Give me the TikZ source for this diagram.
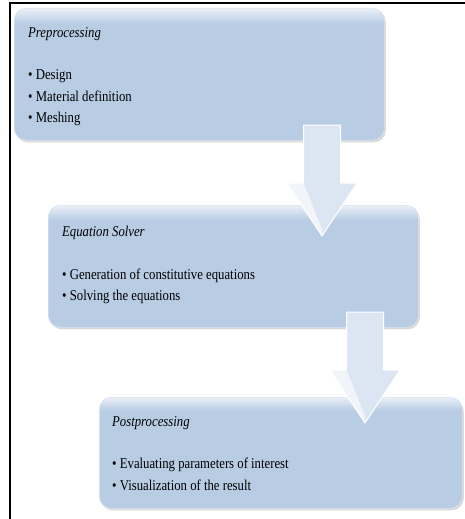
\documentclass[tikz,border=0pt]{standalone}
\usepackage{fontspec}
\setmainfont{Liberation Serif}[FakeStretch=0.85]
\usetikzlibrary{positioning,shadows}
\definecolor{boxblue}{HTML}{B8CCE4}
\definecolor{arrowblue}{HTML}{DCE6F2}
\pgfdeclareverticalshading{boxsheen}{100bp}{color(0bp)=(boxblue); color(25bp)=(boxblue);
  color(69bp)=(boxblue); color(75bp)=(white!70!boxblue); color(100bp)=(white!70!boxblue)}
\tikzset{
    stagebox/.style={rectangle, rounded corners=12pt, shading=boxsheen, draw=white!45!boxblue,
        line width=0.6pt, inner sep=0pt, anchor=north west,
        drop shadow={opacity=0.3, shadow xshift=1.5pt, shadow yshift=-2pt}},
    stagetext/.style={inner sep=0pt, align=left, font=\fontsize{15}{21.5}\selectfont},
    flowarrow/.style={fill=arrowblue, draw=white, line width=1pt, line join=round},
    arrowsheen/.style={fill=white, opacity=0.6}
}
% block arrow pointing down, top centre at (#1,#2)
\newcommand{\flowarrow}[2]{
    \path[flowarrow] (#1,#2) ++(-18.5,0) -- ++(37,0) -- ++(0,58) -- ++(16.5,0)
        -- ++(-35,53) -- ++(-35,-53) -- ++(16.5,0) -- cycle;
    \path[arrowsheen] (#1,#2) ++(-35,58) -- ++(16.5,0) -- ++(18.5,46) -- ++(0,7) -- cycle;
}
\begin{document}
\begin{tikzpicture}[x=1pt, y=-1pt]
    \useasboundingbox (0,0) rectangle (465,519);
    % outer frame
    \draw[line width=2.5pt] (466,3) -- (10,3) -- (10,520);

    % stages
    \node[stagebox, minimum width=370pt, minimum height=132pt] (pre) at (14,8) {};
    \node[stagetext, below right=19pt and 14pt of pre.north west] (pretext)
        {\textit{Preprocessing}\\[21pt] • Design\\ • Material definition\\ • Meshing};

    \node[stagebox, minimum width=370pt, minimum height=122pt] (solver) at (48,205) {};
    \node[stagetext, below right=21pt and 14pt of solver.north west] (solvertext)
        {\textit{Equation Solver}\\[21pt] • Generation of constitutive equations\\ • Solving the equations};

    \node[stagebox, minimum width=363pt, minimum height=111pt] (post) at (99,397) {};
    \node[stagetext, below right=19pt and 13pt of post.north west] (posttext)
        {\textit{Postprocessing}\\[21pt] • Evaluating parameters of interest\\ • Visualization of the result};

    % arrows
    \flowarrow{322}{125}
    \flowarrow{365}{312}
\end{tikzpicture}
\end{document}
